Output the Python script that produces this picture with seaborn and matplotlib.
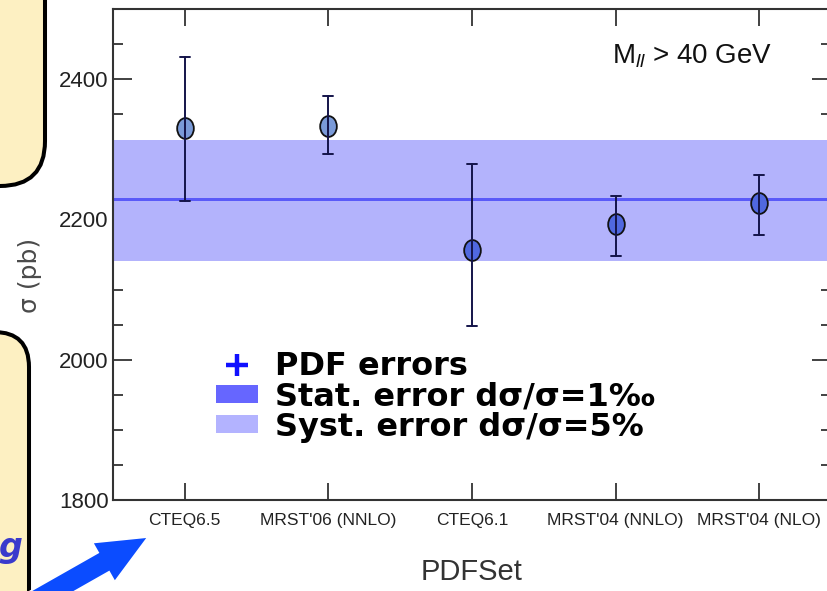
import numpy as np
import pandas as pd
import matplotlib
matplotlib.use("Agg")
import matplotlib.pyplot as plt
import seaborn as sns
from matplotlib.path import Path
from matplotlib.transforms import Affine2D
from matplotlib.patches import FancyBboxPatch, FancyArrow, Patch
from matplotlib.lines import Line2D
from matplotlib.ticker import MultipleLocator

# Cross sections per PDF set with the PDF-error interval
pdf_sets = ["CTEQ6.5", "MRST'06 (NNLO)", "CTEQ6.1", "MRST'04 (NNLO)", "MRST'04 (NLO)"]
sigma = [2331, 2333, 2157, 2194, 2224]
sigma_hi = [2432, 2376, 2279, 2234, 2264]
sigma_lo = [2226, 2293, 2048, 2148, 2178]
point_colors = ["#7a9ad8", "#7a9ad8", "#5068e0", "#5068e0", "#5068e0"]

# Reference value with statistical and systematic bands
sigma_ref = 2229
stat_rel = 0.001
syst_lo, syst_hi = 2141, 2313

y_ticks = [1800, 2000, 2200, 2400]

# long form: low / central / high value for every set
rows = []
for name, lo, mid, hi in zip(pdf_sets, sigma_lo, sigma, sigma_hi):
    for v in (lo, mid, hi):
        rows.append({"PDFSet": name, "sigma": v})
df = pd.DataFrame(rows)

sns.set_theme(style="ticks")
plt.rcParams["font.family"] = ["Liberation Sans", "DejaVu Sans"]
plt.rcParams["mathtext.fontset"] = "custom"
plt.rcParams["mathtext.rm"] = "Liberation Sans"
plt.rcParams["mathtext.it"] = "Liberation Sans:italic"

W, H = 827, 591
fig = plt.figure(figsize=(W / 100, H / 100), dpi=100)
ax = fig.add_axes([113 / W, 1 - 500 / H, (831 - 113) / W, (500 - 9) / H])

ax.axhspan(syst_lo, syst_hi, color="#b3b3fc", lw=0, zorder=1)
ax.axhspan(sigma_ref * (1 - stat_rel), sigma_ref * (1 + stat_rel),
           color="#5a5af8", lw=0, zorder=1.5)

ellipse = Path.unit_circle().transformed(Affine2D().scale(0.8, 1.0))
sns.pointplot(
    data=df, x="PDFSet", y="sigma", hue="PDFSet",
    order=pdf_sets, hue_order=pdf_sets, palette=point_colors,
    estimator="median", errorbar=("pi", 100), capsize=0.07,
    linestyle="none", marker=ellipse, markersize=15,
    markeredgecolor="#111111", markeredgewidth=1.3,
    err_kws={"color": "#14144a", "linewidth": 1.4},
    legend=False, ax=ax, zorder=3,
)

ax.set_xlim(-0.5, 4.5)
ax.set_ylim(1800, 2500)
ax.set_yticks(y_ticks)
ax.yaxis.set_minor_locator(MultipleLocator(50))
ax.tick_params(axis="both", which="both", direction="in", top=True, right=True,
               color="#333333", labelcolor="#222222")
ax.tick_params(axis="y", which="major", length=14, width=1.3, labelsize=16, pad=3)
ax.tick_params(axis="y", which="minor", length=7, width=1.3)
ax.tick_params(axis="x", which="major", length=12, width=1.3, labelsize=12.5, pad=9)
ax.tick_params(axis="x", which="minor", bottom=False, top=False)
for s in ax.spines.values():
    s.set_color("#333333")
    s.set_linewidth(1.5)

ax.set_ylabel("")
ax.set_xlabel("PDFSet", fontsize=21, color="#333333")
ax.xaxis.set_label_coords(0.5, -0.118)

ax.text((772 - 113) / 718, (500 - 63) / 491, r"M$_{ll}$ > 40 GeV", ha="right",
        va="baseline", fontsize=20, color="#111111", transform=ax.transAxes)

fig.text(30 / W, 1 - 275 / H, "σ (pb)", rotation=90, ha="center", va="center",
         fontsize=18, color="#4a4a4a", family="DejaVu Sans")

handles = [
    Line2D([], [], marker="+", linestyle="none", color="#1010ff",
           markersize=16, markeredgewidth=3.2),
    Patch(facecolor="#6666ff", edgecolor="none"),
    Patch(facecolor="#b3b3ff", edgecolor="none"),
]
labels = ["PDF errors", "Stat. error dσ/σ=1‰", "Syst. error dσ/σ=5%"]
ax.legend(handles, labels, loc="upper left",
          bbox_to_anchor=(216 / W, 1 - 351 / H), bbox_transform=fig.transFigure,
          frameon=False, prop={"family": "DejaVu Sans", "weight": "bold", "size": 23},
          labelcolor="black",
          handlelength=1.3, handleheight=0.5, handletextpad=0.55,
          labelspacing=-0.02, borderpad=0, borderaxespad=0)

# side panels of the slide
box_top = FancyBboxPatch((-1.0, 4.05), 1.45, 3.0,
                         boxstyle="round,pad=0,rounding_size=0.45",
                         transform=fig.dpi_scale_trans, facecolor="#fdf0c2",
                         edgecolor="black", lw=2.9)
box_bot = FancyBboxPatch((-1.0, -1.0), 1.29, 3.59,
                         boxstyle="round,pad=0,rounding_size=0.35",
                         transform=fig.dpi_scale_trans, facecolor="#fdf0c2",
                         edgecolor="black", lw=2.9)
fig.patches.extend([box_top, box_bot])
fig.text(22 / W, 1 - 557 / H, "g", ha="right", va="baseline", fontsize=24,
         fontweight="bold", style="italic", color="#3a3acc", family="DejaVu Sans")
arrow = FancyArrow(0.0, -0.3, 1.48, 0.84, width=0.22, head_width=0.45,
                   head_length=0.51, length_includes_head=True,
                   transform=fig.dpi_scale_trans, facecolor="#0b4cff",
                   edgecolor="white", lw=1.2)
fig.patches.append(arrow)

fig.savefig("out.png", dpi=100)
